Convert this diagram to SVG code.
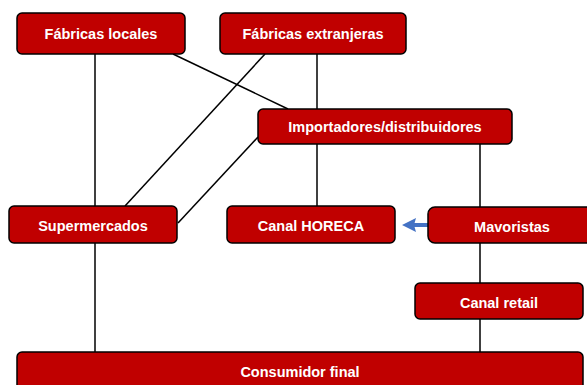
<svg xmlns="http://www.w3.org/2000/svg" width="587" height="385" viewBox="0 0 587 385">
<defs>
<style>
.box{fill:#C00000;stroke:#000;stroke-width:1.5}
.lbl{fill:#fff;font-family:"Liberation Sans",Arial,sans-serif;font-weight:bold;font-size:14.5px;text-anchor:middle}
.ln{stroke:#000;stroke-width:1.5;fill:none}
</style>
</defs>
<rect width="587" height="385" fill="#fff"/>
<g id="connectors">
<line class="ln" x1="95" y1="54" x2="95" y2="206"/>
<line class="ln" x1="95" y1="243" x2="95" y2="352"/>
<line class="ln" x1="173" y1="54" x2="288" y2="109"/>
<line class="ln" x1="265" y1="54" x2="125" y2="206"/>
<line class="ln" x1="317" y1="54" x2="317" y2="109"/>
<line class="ln" x1="317" y1="144" x2="317" y2="206"/>
<line class="ln" x1="258" y1="137" x2="178" y2="223"/>
<line class="ln" x1="480" y1="144" x2="480" y2="207"/>
<line class="ln" x1="480" y1="243" x2="480" y2="283"/>
<line class="ln" x1="480" y1="319" x2="480" y2="352"/>
<line x1="428" y1="225" x2="412" y2="225" stroke="#4472C4" stroke-width="4"/>
<path d="M402,225 L416,218 L414,225 L416,232 z" fill="#4472C4"/>
</g>
<g id="fabricas-locales"><rect class="box" x="17" y="13" width="168" height="41" rx="5"/><text class="lbl" x="101" y="38.5">Fábricas locales</text></g>
<g id="fabricas-extranjeras"><rect class="box" x="220" y="13" width="186" height="41" rx="5"/><text class="lbl" x="313" y="38.5">Fábricas extranjeras</text></g>
<g id="importadores"><rect class="box" x="258" y="109" width="254" height="35" rx="5"/><text class="lbl" x="385" y="132">Importadores/distribuidores</text></g>
<g id="supermercados"><rect class="box" x="9" y="206" width="168" height="37" rx="5"/><text class="lbl" x="93" y="231">Supermercados</text></g>
<g id="canal-horeca"><rect class="box" x="227" y="206" width="168" height="37" rx="5"/><text class="lbl" x="311" y="231">Canal HORECA</text></g>
<g id="mavoristas"><rect class="box" x="428" y="207" width="168" height="36" rx="7"/><text class="lbl" x="512" y="232">Mavoristas</text></g>
<g id="canal-retail"><rect class="box" x="415" y="283" width="168" height="36" rx="5"/><text class="lbl" x="499" y="308">Canal retail</text></g>
<g id="consumidor-final"><rect class="box" x="17" y="352" width="566" height="45" rx="5"/><text class="lbl" x="300" y="377">Consumidor final</text></g>
</svg>
